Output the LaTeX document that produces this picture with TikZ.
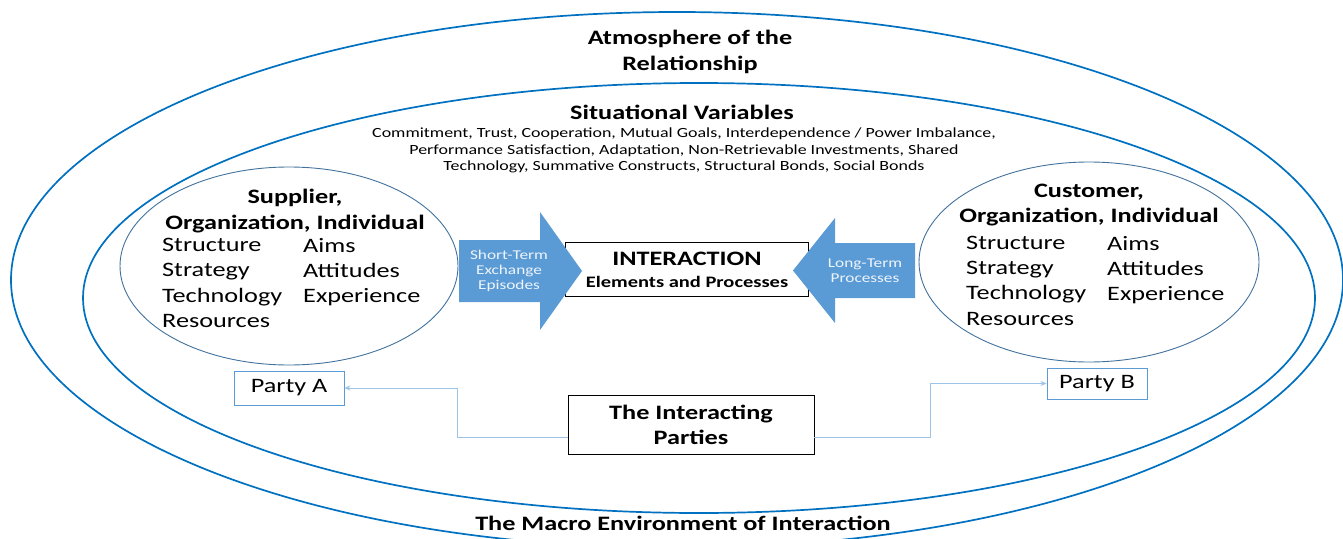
\documentclass[tikz,border=0pt]{standalone}
\usepackage{fontspec}
\setmainfont[FakeStretch=1.28]{Carlito}
\usetikzlibrary{arrows.meta}
\definecolor{ringblue}{HTML}{0070C0}
\definecolor{ovalblue}{HTML}{41719C}
\definecolor{arrowblue}{HTML}{5B9BD5}
\definecolor{linkblue}{HTML}{9DC3E6}
\definecolor{arrowtext}{HTML}{EEF4FB}
\begin{document}
\begin{tikzpicture}[x=1pt,y=-1pt,
  ring/.style={draw=ringblue,line width=1.7pt},
  oval/.style={draw=ovalblue,line width=0.9pt},
  txt/.style={inner sep=0pt,align=center},
  big/.style={txt,font=\fontsize{20.5}{25.3}\selectfont},
  bigb/.style={txt,font=\bfseries\fontsize{20.5}{25.5}\selectfont},
  small/.style={txt,font=\fontsize{14}{16.6}\selectfont},
  arrowlbl/.style={txt,text=arrowtext,font=\fontsize{13.5}{15}\selectfont},
  fatarrow/.style={fill=arrowblue},
  blackbox/.style={draw=black,line width=0.8pt,fill=white,inner sep=0pt},
  partybox/.style={draw=arrowblue,line width=0.8pt,fill=white,inner sep=0pt,
    font=\fontsize{20.5}{25}\selectfont},
  link/.style={draw=linkblue,line width=0.9pt,-{Stealth[length=6pt,width=5pt]}}
]
\useasboundingbox (0,0) rectangle (1343,538);
\begin{scope}
\clip (0,0) rectangle (1343,538);
\draw[ring] (677,280) ellipse [x radius=666pt, y radius=268pt];
\draw[ring] (699,298) ellipse [x radius=616pt, y radius=215pt];
\end{scope}
\draw[oval] (289,266) ellipse [x radius=169pt, y radius=99pt];
\draw[oval] (1089,262) ellipse [x radius=170pt, y radius=100pt];

% titles
\node[bigb] (atm) at (690,52) {Atmosphere of the\\[0.6pt]Relationship};
\node[bigb] (sit) at (682,112) {Situational Variables};
\node[small] (vars) at (684,150.5) {Commitment, Trust, Cooperation, Mutual Goals, Interdependence / Power Imbalance,\\
Performance Satisfaction, Adaptation, Non-Retrievable Investments, Shared\\
Technology, Summative Constructs, Structural Bonds, Social Bonds};

% supplier
\node[bigb] (suph) at (295,211) {Supplier,\\Organization, Individual};
\node[big,align=left,anchor=west] (supl) at (162,283) {Structure\\Strategy\\Technology\\Resources};
\node[big,align=left,anchor=west] (supr) at (303,272) {Aims\\Attitudes\\Experience};

% customer
\node[bigb] (cush) at (1089,205) {Customer,\\Organization, Individual};
\node[big,align=left,anchor=west] (cusl) at (966,280.5) {Structure\\Strategy\\Technology\\Resources};
\node[big,align=left,anchor=west] (cusr) at (1107,270) {Aims\\Attitudes\\Experience};

% interaction box
\node[blackbox,minimum width=243pt,minimum height=54pt] (inter) at (686.5,269) {};
\node[txt,font=\bfseries\fontsize{20.5}{22}\selectfont] (intert) at (687,259) {INTERACTION};
\node[txt,font=\bfseries\fontsize{16}{18}\selectfont] (interst) at (687,282) {Elements and Processes};

% arrows
\fill[fatarrow] (459,240) -- (540,240) -- (540,212) -- (582,271) -- (540,330) -- (540,302) -- (459,302) -- cycle;
\node[arrowlbl] (stl) at (509,271) {Short-Term\\Exchange\\Episodes};
\fill[fatarrow] (915,243) -- (835,243) -- (835,218) -- (793,270.5) -- (835,323) -- (835,298) -- (915,298) -- cycle;
\node[arrowlbl] (ltl) at (865,271) {Long-Term\\Processes};

% parties
\node[partybox,minimum width=110pt,minimum height=34pt] (pa) at (289,388) {Party A};
\node[partybox,minimum width=100pt,minimum height=31pt] (pb) at (1097,383.5) {Party B};
\node[blackbox,minimum width=246pt,minimum height=59pt,align=center,
  font=\bfseries\fontsize{20.5}{25}\selectfont] (ip) at (691,424.5) {The Interacting\\Parties};

\draw[link] ([yshift=-12.5pt]ip.west) -- ++(-110pt,0) |- (pa.east);
\draw[link] ([yshift=-12.5pt]ip.east) -- ++(116pt,0) |- (pb.west);

\node[bigb] (macro) at (683,523) {The Macro Environment of Interaction};
\end{tikzpicture}
\end{document}
